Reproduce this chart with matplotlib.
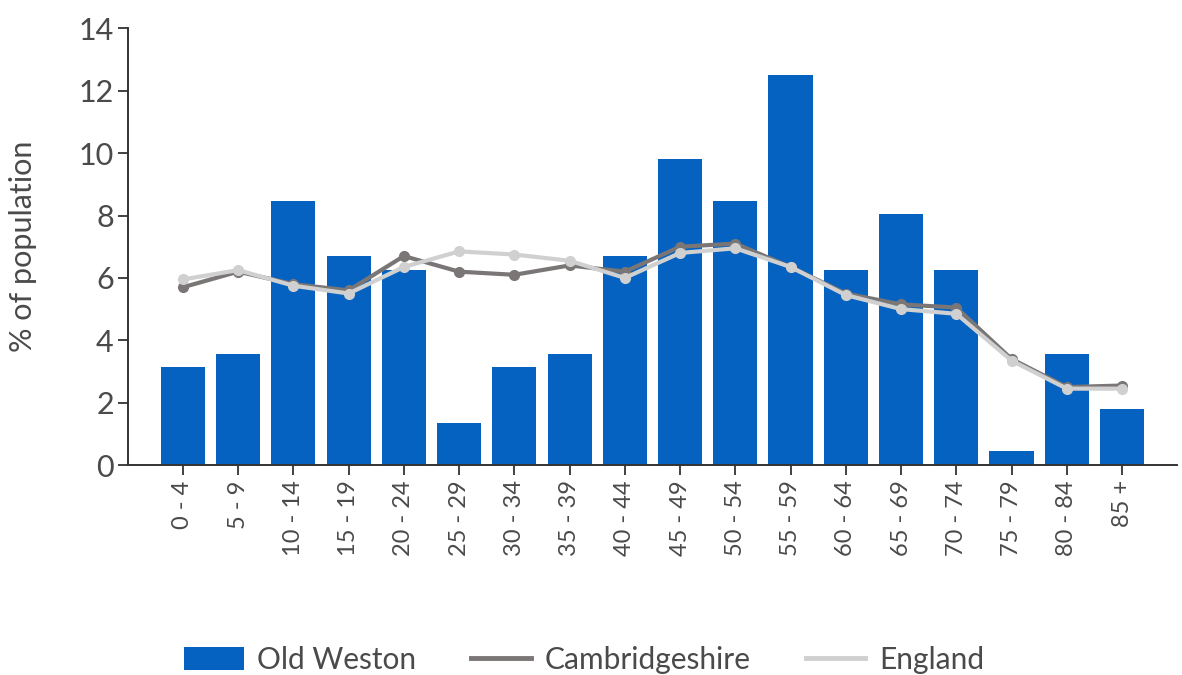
import matplotlib
matplotlib.use("Agg")
import matplotlib.pyplot as plt
from matplotlib.patches import Patch
from matplotlib.lines import Line2D

plt.rcParams['font.family'] = ['Lato', 'DejaVu Sans']

age_groups = ["0 - 4", "5 - 9", "10 - 14", "15 - 19", "20 - 24", "25 - 29",
              "30 - 34", "35 - 39", "40 - 44", "45 - 49", "50 - 54", "55 - 59",
              "60 - 64", "65 - 69", "70 - 74", "75 - 79", "80 - 84", "85 +"]

old_weston = [3.13, 3.57, 8.48, 6.70, 6.25, 1.34, 3.13, 3.57, 6.70, 9.82,
              8.48, 12.50, 6.25, 8.04, 6.25, 0.45, 3.57, 1.79]

cambridgeshire = [5.7, 6.2, 5.8, 5.6, 6.7, 6.2, 6.1, 6.4, 6.2, 7.0,
                  7.1, 6.35, 5.5, 5.15, 5.05, 3.4, 2.5, 2.55]

england = [5.95, 6.25, 5.75, 5.5, 6.35, 6.85, 6.75, 6.55, 6.0, 6.8,
           6.95, 6.35, 5.45, 5.0, 4.85, 3.35, 2.45, 2.45]

bar_color = "#0662c0"
camb_color = "#7a7676"
eng_color = "#d0d0d0"
text_color = "#4a4a4a"

fig = plt.figure(figsize=(11.82, 6.75), dpi=100)
ax = fig.add_axes([0.108, 0.311, 0.888, 0.647])

x = list(range(len(age_groups)))
ax.bar(x, old_weston, width=0.8, color=bar_color, zorder=2)
ax.plot(x, cambridgeshire, color=camb_color, lw=3, marker="o", ms=7,
        zorder=3)
ax.plot(x, england, color=eng_color, lw=3, marker="o", ms=7, zorder=4)

ax.set_xlim(-1, len(age_groups))
ax.set_ylim(0, 14)
ax.set_yticks(range(0, 15, 2))
ax.set_xticks(x)
ax.set_xticklabels(age_groups, rotation=90, fontsize=17, color=text_color)
ax.tick_params(axis="y", labelsize=22, labelcolor=text_color, length=7,
               width=1.3, color="#333333", pad=3)
ax.tick_params(axis="x", length=7, width=1.3, color="#333333", pad=4)

for side in ("top", "right"):
    ax.spines[side].set_visible(False)
for side in ("left", "bottom"):
    ax.spines[side].set_color("#333333")
    ax.spines[side].set_linewidth(1.4)

ax.set_ylabel("% of population", fontsize=22, color=text_color, labelpad=30)

handles = [
    Patch(facecolor=bar_color, edgecolor="none", label="Old Weston"),
    Line2D([0], [0], color=camb_color, lw=3.5, label="Cambridgeshire"),
    Line2D([0], [0], color=eng_color, lw=3.5, label="England"),
]
fig.legend(handles=handles, loc="center", bbox_to_anchor=(0.494, 0.022),
           ncol=3, frameon=False, fontsize=21.5, handlelength=2.0,
           handleheight=0.8, columnspacing=1.85, handletextpad=0.45,
           labelcolor=text_color)

fig.savefig("out.png", dpi=100)
